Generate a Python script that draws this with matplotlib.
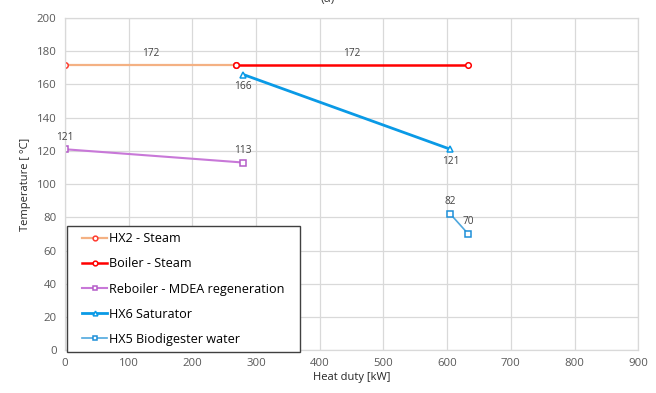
import matplotlib.pyplot as plt
from matplotlib.patches import Rectangle

plt.rcParams["font.family"] = ["Open Sans", "DejaVu Sans"]

# heat duty [kW] / temperature [°C] for each stream
hx2_q, hx2_t = [0, 268], [172, 172]
boiler_q, boiler_t = [268, 633], [172, 172]
reb_q, reb_t = [0, 280], [121, 113]
hx6_q, hx6_t = [280, 605], [166, 121]
hx5_q, hx5_t = [605, 633], [82, 70]

X_TICKS = list(range(0, 901, 100))
Y_TICKS = list(range(0, 201, 20))

fig = plt.figure(figsize=(6.56, 3.93), dpi=100)
ax = fig.add_axes([0.099, 0.109, 0.874, 0.845])

mk = dict(mfc="white", ms=4, mew=1.1)
ax.plot(hx2_q, hx2_t, color="#F4B183", lw=1.6, marker="o",
        mec="#FF3B30", label="HX2 - Steam", **mk)
ax.plot(boiler_q, boiler_t, color="#FF0000", lw=1.8, marker="o",
        mec="#FF0000", label="Boiler - Steam", **mk)
ax.plot(reb_q, reb_t, color="#C878D8", lw=1.5, marker="s",
        mec="#B45CC8", label="Reboiler - MDEA regeneration", **mk)
ax.plot(hx6_q, hx6_t, color="#0A9AE6", lw=2.0, marker="^",
        mec="#0A9AE6", label="HX6 Saturator", **mk)
ax.plot(hx5_q, hx5_t, color="#4FA8DE", lw=1.2, marker="s",
        mec="#1E8FD8", label="HX5 Biodigester water", **mk)

# value labels
lab = dict(fontsize=7.3, color="#404040")
ax.text(sum(hx2_q) / 2, hx2_t[0] + 3.5, f"{hx2_t[0]}", ha="center", va="bottom", **lab)
ax.text(sum(boiler_q) / 2, boiler_t[0] + 3.5, f"{boiler_t[0]}", ha="center", va="bottom", **lab)
ax.text(hx6_q[0], hx6_t[0] - 4, f"{hx6_t[0]}", ha="center", va="top", **lab)
ax.text(hx6_q[1], hx6_t[1] - 4, f"{hx6_t[1]}", ha="center", va="top", **lab)
ax.text(reb_q[0], reb_t[0] + 4, f"{reb_t[0]}", ha="center", va="bottom", **lab)
ax.text(reb_q[1], reb_t[1] + 4, f"{reb_t[1]}", ha="center", va="bottom", **lab)
ax.text(hx5_q[0], hx5_t[0] + 4, f"{hx5_t[0]}", ha="center", va="bottom", **lab)
ax.text(hx5_q[1], hx5_t[1] + 4, f"{hx5_t[1]}", ha="center", va="bottom", **lab)

ax.set_xlim(0, 900)
ax.set_ylim(0, 200)
ax.set_xticks(X_TICKS)
ax.set_yticks(Y_TICKS)
ax.tick_params(length=0, labelsize=8.2, labelcolor="#595959", pad=6)
ax.grid(color="#D9D9D9", lw=0.9)
ax.set_axisbelow(True)
for s in ax.spines.values():
    s.set_color("#D9D9D9")
    s.set_linewidth(0.9)

ax.set_xlabel("Heat duty [kW]", fontsize=8, color="#262626", labelpad=2)
ax.set_ylabel("Temperature [ °C]", fontsize=8, color="#262626", labelpad=4)

# legend box: wider side padding than matplotlib's uniform borderpad allows
ax.add_patch(Rectangle((0.0035, -0.006), 0.4067, 0.379, transform=ax.transAxes,
                       facecolor="white", edgecolor="#404040", lw=1.0,
                       clip_on=False, zorder=4))
leg = ax.legend(loc="lower left", bbox_to_anchor=(0.0297, 0.013), fontsize=9.1,
                frameon=False, borderpad=0, labelspacing=0.96, handlelength=2.0,
                handletextpad=0.1, borderaxespad=0, markerscale=0.85)
leg.set_zorder(5)

fig.text(0.5, 1.005, "(a)", ha="center", va="center", fontsize=9, color="#404040")

fig.savefig("out.png", dpi=100)
